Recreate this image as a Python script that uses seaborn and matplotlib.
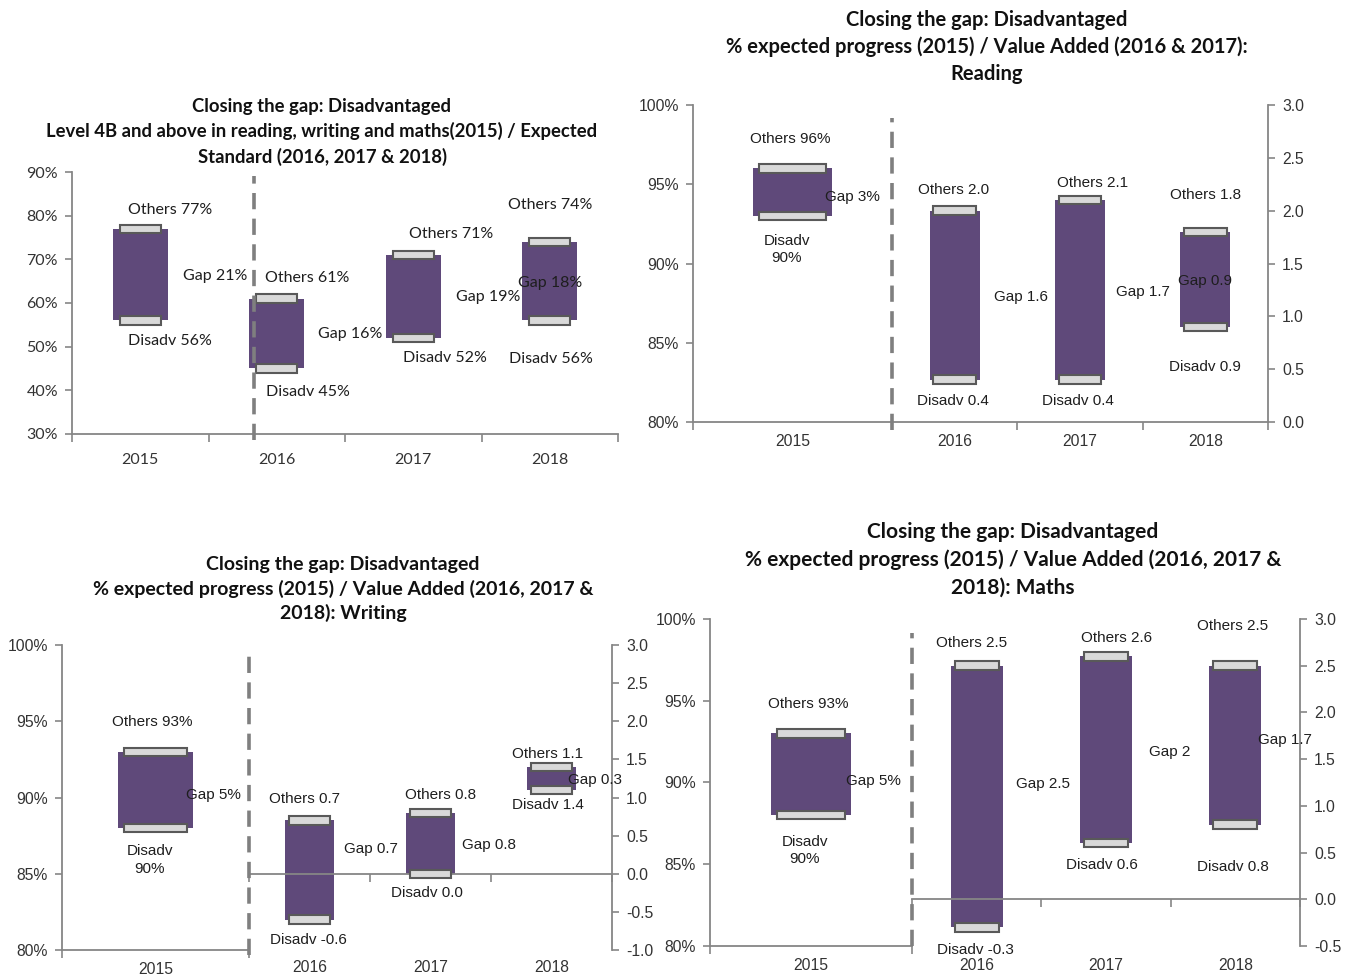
import numpy as np
import pandas as pd
import matplotlib
matplotlib.use("Agg")
import matplotlib.pyplot as plt
import matplotlib.transforms as mtransforms
from matplotlib.ticker import FuncFormatter, FixedLocator
import seaborn as sns

sns.set_theme(style="white")
plt.rcParams['font.family'] = ['Liberation Sans', 'DejaVu Sans']

# ------------------------------------------------------------------ data
P1_YEARS = ["2015", "2016", "2017", "2018"]
P1_DISADV = [56, 45, 52, 56]
P1_OTHERS = [77, 61, 71, 74]
P1_OTHERS_LBL = ["Others 77%", "Others 61%", "Others 71%", "Others 74%"]
P1_DISADV_LBL = ["Disadv 56%", "Disadv 45%", "Disadv 52%", "Disadv 56%"]
P1_GAP_LBL = ["Gap 21%", "Gap 16%", "Gap 19%", "Gap 18%"]

PCT_YEAR = ["2015"]
VA_YEARS = ["2016", "2017", "2018"]

READ_PCT_DISADV = [93]
READ_PCT_OTHERS = [96]
READ_VA_DISADV = [0.4, 0.4, 0.9]
READ_VA_OTHERS = [2.0, 2.1, 1.8]
READ_OTHERS_LBL = ["Others 96%", "Others 2.0", "Others 2.1", "Others 1.8"]
READ_DISADV_LBL = ["Disadv\n90%", "Disadv 0.4", "Disadv 0.4", "Disadv 0.9"]
READ_GAP_LBL = ["Gap 3%", "Gap 1.6", "Gap 1.7", "Gap 0.9"]

WRIT_PCT_DISADV = [88]
WRIT_PCT_OTHERS = [93]
WRIT_VA_DISADV = [-0.6, 0.0, 1.1]
WRIT_VA_OTHERS = [0.7, 0.8, 1.4]
WRIT_OTHERS_LBL = ["Others 93%", "Others 0.7", "Others 0.8", "Others 1.1"]
WRIT_DISADV_LBL = ["Disadv\n90%", "Disadv -0.6", "Disadv 0.0", "Disadv 1.4"]
WRIT_GAP_LBL = ["Gap 5%", "Gap 0.7", "Gap 0.8", "Gap 0.3"]

MATH_PCT_DISADV = [88]
MATH_PCT_OTHERS = [93]
MATH_VA_DISADV = [-0.3, 0.6, 0.8]
MATH_VA_OTHERS = [2.5, 2.6, 2.5]
MATH_OTHERS_LBL = ["Others 93%", "Others 2.5", "Others 2.6", "Others 2.5"]
MATH_DISADV_LBL = ["Disadv\n90%", "Disadv -0.3", "Disadv 0.6", "Disadv 0.8"]
MATH_GAP_LBL = ["Gap 5%", "Gap 2.5", "Gap 2", "Gap 1.7"]

TITLE_1 = ("Closing the gap: Disadvantaged\n"
           "Level 4B and above in reading, writing and maths(2015) / Expected\n"
           "Standard (2016, 2017 & 2018)")
TITLE_2 = ("Closing the gap: Disadvantaged\n"
           "% expected progress (2015) / Value Added (2016 & 2017):\n"
           "Reading")
TITLE_3 = ("Closing the gap: Disadvantaged\n"
           "% expected progress (2015) / Value Added (2016, 2017 &\n"
           "2018): Writing")
TITLE_4 = ("Closing the gap: Disadvantaged\n"
           "% expected progress (2015) / Value Added (2016, 2017 &\n"
           "2018): Maths")

# ------------------------------------------------------------------ layout (label anchors)
P1_OTHERS_POS = [(0.22, 81.3), (1.22, 65.7), (2.28, 75.8), (3.0, 82.4)]
P1_DISADV_POS = [(0.22, 51.3), (1.23, 39.6), (2.23, 47.4), (3.01, 47.2)]
P1_GAP_POS = [(0.55, 66.2), (1.54, 52.9), (2.55, 61.4), (3.0, 64.6)]

READ_POS = dict(lo=[(-0.01, 97.85), (-0.03, 90.9), (0.30, 94.2)],
                oth=[(-0.01, 2.20), (1.10, 2.26), (2.0, 2.15)],
                dis=[(-0.01, 0.20), (0.98, 0.20), (2.0, 0.52)],
                gap=[(0.53, 1.18), (1.50, 1.23), (2.0, 1.33)])
WRIT_POS = dict(lo=[(-0.02, 94.95), (-0.03, 85.9), (0.31, 90.16)],
                oth=[(-0.04, 0.98), (1.08, 1.03), (1.97, 1.57)],
                dis=[(-0.01, -0.87), (0.97, -0.25), (1.97, 0.90)],
                gap=[(0.51, 0.33), (1.48, 0.38), (2.36, 1.23)])
MATH_POS = dict(lo=[(-0.015, 94.8), (-0.03, 85.85), (0.31, 90.1)],
                oth=[(-0.04, 2.74), (1.085, 2.80), (1.98, 2.93)],
                dis=[(-0.01, -0.54), (0.97, 0.37), (1.98, 0.35)],
                gap=[(0.51, 1.23), (1.49, 1.58), (2.38, 1.70)])

# ------------------------------------------------------------------ style
PURPLE = "#5f497a"
MARK_FILL = "#d9d9d9"
MARK_EDGE = "#595959"
SPINE = "#868686"
DASH = "#7f7f7f"
TXT = "#1e1e1e"
TICKTXT = "#333333"
CAL = ['Lato', 'DejaVu Sans']
ARI = ['Liberation Sans', 'DejaVu Sans']

W, H = 1345, 975
fig = plt.figure(figsize=(W / 100, H / 100), dpi=100)
fig.patch.set_facecolor("white")


def make_ax(x0, x1, y0, y1):
    ax = fig.add_axes([x0 / W, 1 - y1 / H, (x1 - x0) / W, (y1 - y0) / H])
    ax.set_facecolor("none")
    return ax


def floating(ax, years, lows, highs, ylim, hpx, width=0.4, mark_w=0.33):
    lows = np.asarray(lows, float)
    highs = np.asarray(highs, float)
    df = pd.DataFrame({"year": years, "gap": highs - lows})
    sns.barplot(data=df, x="year", y="gap", order=years, bottom=lows,
                width=width, color=PURPLE, saturation=1, errorbar=None,
                linewidth=0, ax=ax, zorder=2)
    mh = 8.5 / hpx * (ylim[1] - ylim[0])
    for vals in (lows, highs):
        dm = pd.DataFrame({"year": years, "h": np.full(len(years), mh)})
        sns.barplot(data=dm, x="year", y="h", order=years, bottom=vals - mh / 2,
                    width=mark_w, color=MARK_FILL, edgecolor=MARK_EDGE,
                    linewidth=1.5, saturation=1, errorbar=None, ax=ax, zorder=3)
    ax.set_xlim(-0.5, len(years) - 0.5)
    ax.set_ylim(*ylim)
    ax.set_xlabel("")
    ax.set_ylabel("")


def style(ax, n, yticks, fmt, side, fam, fs, zero_base=False, cat_pad=8,
          cat_labels=None, cat_y=None):
    for s in ax.spines.values():
        s.set_color(SPINE)
        s.set_linewidth(1.3)
    ax.spines["top"].set_visible(False)
    if side == "left":
        ax.spines["right"].set_visible(False)
        ax.yaxis.set_ticks_position("left")
        ax.tick_params(axis="y", left=True, right=False, labelleft=True,
                       labelright=False)
    else:
        ax.spines["left"].set_visible(False)
        ax.yaxis.set_ticks_position("right")
        ax.tick_params(axis="y", left=False, right=True, labelleft=False,
                       labelright=True)
    ax.set_yticks(yticks)
    ax.yaxis.set_major_formatter(FuncFormatter(fmt))
    ax.tick_params(axis="y", direction="out", length=5, width=1.2, color=SPINE,
                   labelsize=fs, labelcolor=TICKTXT, pad=5)
    for lab in ax.get_yticklabels():
        lab.set_family(fam)
    if zero_base:
        ax.spines["bottom"].set_position(("data", 0))
    ax.set_xticks(list(range(n)))
    ax.xaxis.set_minor_locator(FixedLocator([i - 0.5 for i in range(n + 1)]))
    ax.tick_params(axis="x", which="major", bottom=True, length=0,
                   labelsize=fs, labelcolor=TICKTXT, pad=cat_pad)
    ax.tick_params(axis="x", which="minor", bottom=True, direction="out",
                   length=6, width=1.2, color=SPINE)
    if zero_base:
        ax.tick_params(axis="x", which="major", labelbottom=False)
        trans = mtransforms.blended_transform_factory(ax.transData, ax.transAxes)
        for i, c in enumerate(cat_labels):
            ax.text(i, cat_y, c, ha="center", va="center", fontsize=fs,
                    color=TICKTXT, family=fam, transform=trans, clip_on=False)
    else:
        for lab in ax.get_xticklabels():
            lab.set_family(fam)


def label(ax, pos, text, fam, fs):
    ax.text(pos[0], pos[1], text, ha="center", va="center", fontsize=fs,
            color=TXT, family=fam, zorder=6, clip_on=False, linespacing=1.3)


def dashed(ax, x, ymin, ymax):
    ax.axvline(x, ymin=ymin, ymax=ymax, color=DASH, lw=2.6,
               ls=(0, (4.5, 2.6)), clip_on=False, zorder=5)


def title(tcx, tcy, text, fs, ls):
    fig.text(tcx / W, 1 - tcy / H, text, ha="center", va="center",
             fontsize=fs, fontweight="bold", family=CAL, color="#111111",
             linespacing=ls)


pct = lambda v, p: f"{v:.0f}%"
one = lambda v, p: f"{v:.1f}"

# ------------------------------------------------------------------ panel 1
ax1 = make_ax(72, 618, 172, 434)
floating(ax1, P1_YEARS, P1_DISADV, P1_OTHERS, (30, 90), 262, mark_w=0.3)
style(ax1, 4, range(30, 91, 10), pct, "left", CAL, 11.5, cat_pad=14)
for i in range(4):
    label(ax1, P1_OTHERS_POS[i], P1_OTHERS_LBL[i], CAL, 11.5)
    label(ax1, P1_DISADV_POS[i], P1_DISADV_LBL[i], CAL, 11.5)
    label(ax1, P1_GAP_POS[i], P1_GAP_LBL[i], CAL, 11.5)
dashed(ax1, 0.833, -0.023, 0.985)
title(322, 132, TITLE_1, 13.3, 1.5)


# ------------------------------------------------------------------ panels 2-4
def split_panel(lx0, bx, rx1, y0, y1, pdis, poth, vdis, voth, vlim, vticks,
                olbl, dlbl, glbl, POS, zero_base, dash_lim, cat_y=None):
    hpx = y1 - y0
    axl = make_ax(lx0, bx, y0, y1)
    floating(axl, PCT_YEAR, pdis, poth, (80, 100), hpx, mark_w=0.34)
    style(axl, 1, range(80, 101, 5), pct, "left", ARI, 11.3, cat_pad=9)
    axr = make_ax(bx, rx1, y0, y1)
    floating(axr, VA_YEARS, vdis, voth, vlim, hpx, mark_w=0.34)
    style(axr, 3, vticks, one, "right", ARI, 11.3, zero_base=zero_base,
          cat_pad=9, cat_labels=VA_YEARS, cat_y=cat_y)
    label(axl, POS["lo"][0], olbl[0], ARI, 11)
    label(axl, POS["lo"][1], dlbl[0], ARI, 11)
    label(axl, POS["lo"][2], glbl[0], ARI, 11)
    for i in range(3):
        label(axr, POS["oth"][i], olbl[i + 1], ARI, 11)
        label(axr, POS["dis"][i], dlbl[i + 1], ARI, 11)
        label(axr, POS["gap"][i], glbl[i + 1], ARI, 11)
    dashed(axr, -0.5, dash_lim[0], dash_lim[1])


split_panel(693, 892, 1268, 105, 422, READ_PCT_DISADV, READ_PCT_OTHERS,
            READ_VA_DISADV, READ_VA_OTHERS, (0, 3), np.arange(0, 3.01, 0.5),
            READ_OTHERS_LBL, READ_DISADV_LBL, READ_GAP_LBL, READ_POS,
            False, (-0.025, 0.959))
title(987, 47, TITLE_2, 14.5, 1.4)

split_panel(62, 249, 612, 645, 950, WRIT_PCT_DISADV, WRIT_PCT_OTHERS,
            WRIT_VA_DISADV, WRIT_VA_OTHERS, (-1, 3), np.arange(-1, 3.01, 0.5),
            WRIT_OTHERS_LBL, WRIT_DISADV_LBL, WRIT_GAP_LBL, WRIT_POS,
            True, (-0.016, 0.967), cat_y=-0.059)
title(343, 589, TITLE_3, 14.0, 1.42)

split_panel(710, 912, 1300, 619, 946, MATH_PCT_DISADV, MATH_PCT_OTHERS,
            MATH_VA_DISADV, MATH_VA_OTHERS, (-0.5, 3), np.arange(-0.5, 3.01, 0.5),
            MATH_OTHERS_LBL, MATH_DISADV_LBL, MATH_GAP_LBL, MATH_POS,
            True, (0.0, 0.957), cat_y=-0.061)
title(1013, 560, TITLE_4, 15.0, 1.45)

fig.savefig("out.png", dpi=100, facecolor="white")
